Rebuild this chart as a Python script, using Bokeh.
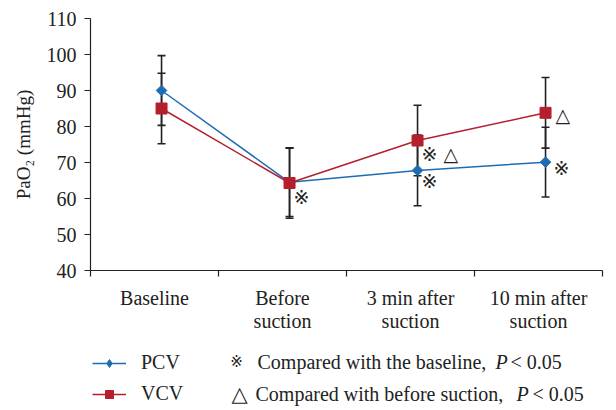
import numpy as np
from bokeh.plotting import figure
from bokeh.layouts import column
from bokeh.models import (ColumnDataSource, FixedTicker, Range1d, Legend, LegendItem, Label)
from bokeh.core.properties import value
from bokeh.embed import file_html
from bokeh.resources import INLINE

# ---- data ----
categories = ["Baseline", "Before\nsuction", "3 min after\nsuction", "10 min after\nsuction"]
pcv_mean = [90.0, 64.5, 67.8, 70.1]
pcv_sd = [9.7, 9.5, 9.8, 9.7]
vcv_mean = [85.0, 64.3, 76.1, 83.8]
vcv_sd = [9.8, 9.8, 9.8, 9.8]
STAR = "\u203b\ufe0e"
TRI = "\u25b3"
pcv_marks = ["", STAR, STAR, STAR]
vcv_marks = ["", "", STAR + " " + TRI, TRI]
y_ticks = [40, 50, 60, 70, 80, 90, 100, 110]
series_names = ["PCV", "VCV"]
note_texts = [(STAR, "Compared with the baseline,", "P", "< 0.05"),
              (TRI, "Compared with before suction,", "P", "< 0.05")]

# ---- style ----
BLUE = "#1f6cb3"
RED = "#b41f2e"
INK = "#222222"
FONT = "Liberation Serif"
SYM_FONT = "DejaVu Sans"
pcv_dx = [0, 4, 4, 8]
pcv_dy = [0, 15, 11, 6]
vcv_dx = [0, 0, 4, 10]
vcv_dy = [0, 0, 13, 2]
DIAMOND = dict(marker="square", angle=np.pi / 4, size=7.5)
SQUARE = dict(marker="square", size=11)
LEG_MARKERS = [dict(marker="diamond", size=15), dict(marker="square", size=12)]

idx = np.arange(len(categories))
xs = idx + 0.055

p = figure(width=616, height=335, x_range=Range1d(-0.5, len(categories) - 0.5),
           y_range=Range1d(40, 110), output_backend="svg", toolbar_location=None,
           min_border_left=90, min_border_right=14, min_border_top=18, min_border_bottom=65)
p.outline_line_color = None
p.xgrid.visible = False
p.ygrid.visible = False

# axes
p.yaxis.ticker = FixedTicker(ticks=y_ticks)
p.yaxis.major_tick_in = 0
p.yaxis.major_tick_out = 6
p.yaxis.minor_tick_line_color = None
p.yaxis.major_label_standoff = 8
p.yaxis.axis_label = "PaO\u2082 (mmHg)"
p.yaxis.axis_label_text_font = FONT
p.yaxis.axis_label_text_font_size = "19px"
p.yaxis.axis_label_text_font_style = "normal"
p.yaxis.axis_label_text_color = INK
p.yaxis.axis_label_standoff = 10
p.yaxis.major_tick_line_color = INK

p.xaxis.ticker = FixedTicker(ticks=list(idx), minor_ticks=list(np.arange(len(categories) + 1) - 0.5))
p.xaxis.major_label_overrides = {int(i): c for i, c in zip(idx, categories)}
p.xaxis.major_tick_line_color = None
p.xaxis.minor_tick_in = 0
p.xaxis.minor_tick_out = 6
p.xaxis.minor_tick_line_color = INK
p.xaxis.minor_tick_line_width = 1.2
p.xaxis.major_label_standoff = 10
p.xaxis.major_label_text_line_height = 1.05

for ax in (p.xaxis, p.yaxis):
    ax.axis_line_color = INK
    ax.axis_line_width = 1.2
    ax.major_tick_line_width = 1.2
    ax.major_label_text_font = FONT
    ax.major_label_text_font_size = "20px"
    ax.major_label_text_color = INK

src = ColumnDataSource(dict(
    x=xs,
    pcv=pcv_mean, pcv_lo=np.array(pcv_mean) - np.array(pcv_sd), pcv_hi=np.array(pcv_mean) + np.array(pcv_sd),
    vcv=vcv_mean, vcv_lo=np.array(vcv_mean) - np.array(vcv_sd), vcv_hi=np.array(vcv_mean) + np.array(vcv_sd),
    pcv_marks=pcv_marks, vcv_marks=vcv_marks,
    pcv_dx=pcv_dx, pcv_dy=pcv_dy, vcv_dx=vcv_dx, vcv_dy=vcv_dy,
))

# error bars
for s in ("pcv", "vcv"):
    p.segment(x0="x", y0=s + "_lo", x1="x", y1=s + "_hi", source=src, line_color=INK, line_width=1.6)
    p.scatter(x="x", y=s + "_lo", marker="dash", size=8, source=src, line_color=INK, line_width=1.6)
    p.scatter(x="x", y=s + "_hi", marker="dash", size=8, source=src, line_color=INK, line_width=1.6)

p.line(x="x", y="pcv", source=src, line_color=BLUE, line_width=1.5)
p.line(x="x", y="vcv", source=src, line_color=RED, line_width=1.5)
p.scatter(x="x", y="pcv", source=src, fill_color=BLUE, line_color=BLUE, **DIAMOND)
p.scatter(x="x", y="vcv", source=src, fill_color=RED, line_color=RED, **SQUARE)

# significance marks
for s in ("pcv", "vcv"):
    p.text(x="x", y=s, text=s + "_marks", source=src, x_offset=s + "_dx", y_offset=s + "_dy",
           text_align="left", text_baseline="middle", text_font=value(SYM_FONT),
           text_font_size="19px", text_color=INK)

# ---- legend strip (x in page pixels: frame spans 90..602) ----
q = figure(width=616, height=75, x_range=Range1d(90, 602), y_range=Range1d(75, 0),
           output_backend="svg", toolbar_location=None,
           x_axis_location=None, y_axis_location=None,
           min_border_left=90, min_border_right=14, min_border_top=0, min_border_bottom=0)
q.outline_line_color = None
q.xgrid.visible = False
q.ygrid.visible = False

items = []
for name, col, mk in zip(series_names, (BLUE, RED), LEG_MARKERS):
    lr = q.line(x=[np.nan, np.nan], y=[np.nan, np.nan], line_color=col, line_width=1.5)
    sr = q.scatter(x=[np.nan], y=[np.nan], fill_color=col, line_color=col, **mk)
    items.append(LegendItem(label=name, renderers=[lr, sr]))

legend = Legend(items=items, location=(2, 5), orientation="vertical",
                glyph_width=34, glyph_height=20, spacing=8, padding=0, margin=0,
                label_standoff=15, label_text_font=FONT, label_text_font_size="20px",
                label_height=20, label_text_color=INK, border_line_color=None,
                background_fill_alpha=0)
q.add_layout(legend)

row_y = [26, 58]
sym_x = [236, 239]
sym_size = ["15px", "21px"]
txt_x = [257, 255]
p_x = [495, 516]
lt_x = [510, 532]
for k, (sym, txt, pp, rest) in enumerate(note_texts):
    q.add_layout(Label(x=sym_x[k], y=row_y[k], text=sym, text_align="center", text_baseline="middle",
                       text_font=SYM_FONT, text_font_size=sym_size[k], text_color=INK))
    q.add_layout(Label(x=txt_x[k], y=row_y[k], text=txt, text_align="left", text_baseline="middle",
                       text_font=FONT, text_font_size="20px", text_color=INK))
    q.add_layout(Label(x=p_x[k], y=row_y[k], text=pp, text_align="left", text_baseline="middle",
                       text_font=FONT, text_font_style="italic", text_font_size="20px", text_color=INK))
    q.add_layout(Label(x=lt_x[k], y=row_y[k], text=rest, text_align="left", text_baseline="middle",
                       text_font=FONT, text_font_size="20px", text_color=INK))

layout = column(p, q, spacing=0)
open("out.html", "w").write(file_html(layout, INLINE))
